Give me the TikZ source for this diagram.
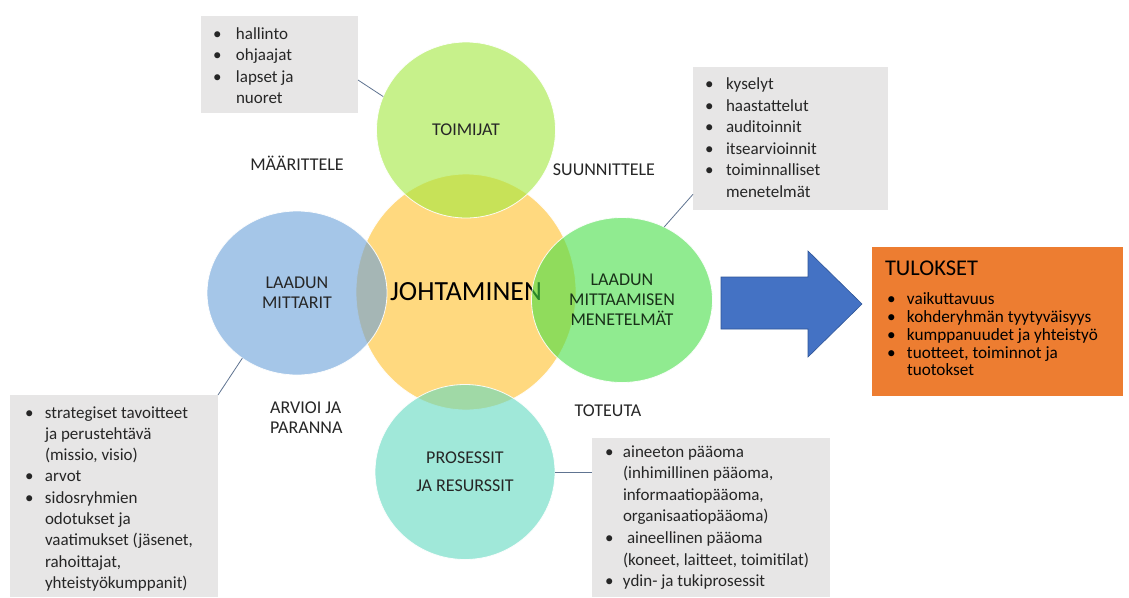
\documentclass[tikz,border=0pt]{standalone}
\usepackage{fontspec}
\setmainfont{Carlito}
\usetikzlibrary{shapes.geometric,calc}

\definecolor{ylw}{RGB}{255,217,127}
\definecolor{grnA}{RGB}{163,233,63}
\definecolor{bluA}{RGB}{105,160,217}
\definecolor{grnB}{RGB}{70,223,70}
\definecolor{tealA}{RGB}{97,217,193}
\definecolor{boxgrey}{RGB}{231,230,230}
\definecolor{arrowblue}{RGB}{68,114,196}
\definecolor{arrowedge}{RGB}{47,85,151}
\definecolor{outcome}{RGB}{237,125,49}
\definecolor{ink}{RGB}{38,38,38}
\definecolor{connline}{RGB}{96,116,145}

% bullet list helpers: \bl = bulleted line, \cl = continuation line
\newlength\bi
\newcommand\setbi[1]{\global\bi=#1\relax}
\newcommand\bl[1]{\strut\makebox[\bi][l]{\textbullet}#1}
\newcommand\cl[1]{\strut\hspace*{\bi}#1}

\tikzset{
  bubble/.style={ellipse, inner sep=0pt, outer sep=0pt, draw=white, line width=0.8pt,
    fill opacity=0.6, draw opacity=0.9, text opacity=1, text=ink, align=center,
    font=\fontsize{18}{20}\selectfont},
  greybox/.style={fill=boxgrey, inner sep=0pt, outer sep=0pt, anchor=north west},
  listtext/.style={anchor=north west, inner sep=0pt, outer sep=0pt, align=left, text=ink},
  phase/.style={text=ink, font=\fontsize{18}{20}\selectfont, inner sep=0pt},
  conn/.style={draw=connline, line width=0.8pt},
}

\begin{document}
\begin{tikzpicture}[x=1pt, y=-1pt]
\useasboundingbox[fill=white] (0,0) rectangle (1129,597);

% circles: the centre one first, the four around it translucent on top
\node[bubble, fill=ylw, fill opacity=1, minimum width=220pt, minimum height=236pt,
      font=\fontsize{27.7}{30}\selectfont, text=black] (johtaminen) at (466,292) {JOHTAMINEN};
\node[bubble, fill=grnA, minimum width=179pt, minimum height=176pt] (toimijat) at (466,130) {TOIMIJAT};
\node[bubble, fill=bluA, minimum width=180pt, minimum height=164pt] (mittarit) at (297,293) {LAADUN\\MITTARIT};
\node[bubble, fill=tealA, minimum width=180pt, minimum height=175pt] (prosessit) at (465,472) {PROSESSIT\\[8pt]JA RESURSSIT};
\node[bubble, fill=grnB, minimum width=181pt, minimum height=165pt, text={rgb,255:red,25;green,50;blue,25}] (menetelmat) at (622,300) {LAADUN\\MITTAAMISEN\\MENETELMÄT};

% phase labels
\node[phase] (maarittele) at (297,163) {MÄÄRITTELE};
\node[phase] (suunnittele) at (604,170) {SUUNNITTELE};
\node[phase, anchor=north west, align=left] (arvioi) at (270,402) {ARVIOI JA\\PARANNA};
\node[phase] (toteuta) at (608,411) {TOTEUTA};

% grey detail boxes
\node[greybox, minimum width=157pt, minimum height=97pt] (tlbox) at (201,16) {};
\node[greybox, minimum width=195pt, minimum height=143pt] (trbox) at (693,67) {};
\node[greybox, minimum width=208pt, minimum height=202pt] (lbbox) at (10,395) {};
\node[greybox, minimum width=238pt, minimum height=159pt] (brbox) at (592,438) {};

\node[listtext, font=\fontsize{17}{21.6}\selectfont] (tllist) at (213,23.9)
  {\setbi{23pt}\bl{hallinto}\\\bl{ohjaajat}\\\bl{lapset ja}\\\cl{nuoret}};
\node[listtext, font=\fontsize{17}{21.6}\selectfont] (trlist) at (705,74.4)
  {\setbi{21pt}\bl{kyselyt}\\\bl{haastattelut}\\\bl{auditoinnit}\\\bl{itsearvioinnit}\\\bl{toiminnalliset}\\\cl{menetelmät}};
\node[listtext, font=\fontsize{17}{21.3}\selectfont] (lblist) at (25,403.1)
  {\setbi{20pt}\bl{strategiset tavoitteet}\\\cl{ja perustehtävä}\\\cl{(missio, visio)}\\\bl{arvot}\\\bl{sidosryhmien}\\\cl{odotukset ja}\\\cl{vaatimukset (jäsenet,}\\\cl{rahoittajat,}\\\cl{yhteistyökumppanit)}};
\node[listtext, font=\fontsize{17}{21.6}\selectfont] (brlist) at (605,441.9)
  {\setbi{18pt}\bl{aineeton pääoma}\\\cl{(inhimillinen pääoma,}\\\cl{informaatiopääoma,}\\\cl{organisaatiopääoma)}\\\bl{\hspace{4pt}aineellinen pääoma}\\\cl{(koneet, laitteet, toimitilat)}\\\bl{ydin- ja tukiprosessit}};

% outcome box
\node[greybox, fill=outcome, minimum width=251pt, minimum height=149pt] (tulokset) at (872,247) {};
\node[listtext, anchor=base west, font=\fontsize{22.5}{24}\selectfont, text=black] (tuloksetTitle) at (885,275) {TULOKSET};
\node[listtext, font=\fontsize{17.2}{17.7}\selectfont, text=black] (tuloksetList) at (887,292.6)
  {\setbi{20pt}\bl{vaikuttavuus}\\\bl{kohderyhmän tyytyväisyys}\\\bl{kumppanuudet ja yhteistyö}\\\bl{tuotteet, toiminnot ja}\\\cl{tuotokset}};

% block arrow towards the outcomes
\draw[fill=arrowblue, draw=arrowedge, line width=0.6pt, line join=miter]
  (721,277) -- (808,277) -- (808,251) -- (862,304) -- (808,357) -- (808,329) -- (721,329) -- cycle;

% connectors from the boxes to the circles
\draw[conn] ($(tlbox.north east)!0.66!(tlbox.south east)$) -- (toimijat.158);
\draw[conn] ($(trbox.north west)!0.89!(trbox.south west)$) -- (menetelmat.60);
\draw[conn] (lbbox.north east) -- (mittarit.230);
\draw[conn] (prosessit.east) -- (prosessit.east -| brbox.west);
\end{tikzpicture}
\end{document}
